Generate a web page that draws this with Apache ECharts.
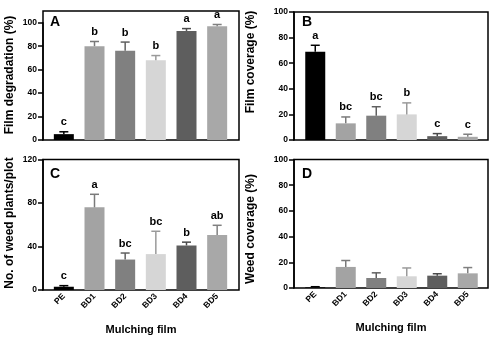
<!DOCTYPE html>
<html>
<head>
<meta charset="utf-8">
<script src="https://cdn.jsdelivr.net/npm/echarts@6/dist/echarts.min.js"></script>
<style>
  html, body { margin: 0; padding: 0; background: #fff; }
  #chart { width: 493px; height: 348px; }
</style>
</head>
<body>
<div id="chart"></div>
<script>
// ---- data ----
const categories = ['PE', 'BD1', 'BD2', 'BD3', 'BD4', 'BD5'];

const filmDegradation = [5, 80, 76, 68, 93, 97];
const filmDegradationErr = [2, 4, 7.5, 4, 2, 1.5];
const filmDegradationLetters = ['c', 'b', 'b', 'b', 'a', 'a'];

const filmCoverage = [69, 13, 19, 20, 3, 2.5];
const filmCoverageErr = [5, 5, 7, 9, 2, 2];
const filmCoverageLetters = ['a', 'bc', 'bc', 'b', 'c', 'c'];

const weedPlants = [3, 76, 28, 33, 41, 50.5];
const weedPlantsErr = [1, 12, 6, 21, 3, 9];
const weedPlantsLetters = ['c', 'a', 'bc', 'bc', 'b', 'ab'];

const weedCoverage = [0.5, 16.4, 7.8, 9.1, 9.6, 11.4];
const weedCoverageErr = [0.5, 5, 4, 6.5, 1.5, 4.5];
const weedCoverageLetters = ['', '', '', '', '', ''];

const ticksA = [0, 20, 40, 60, 80, 100];
const ticksB = [0, 20, 40, 60, 80, 100];
const ticksC = [0, 40, 80, 120];
const ticksD = [0, 20, 40, 60, 80, 100];

// ---- styles ----
const FONT = '"Liberation Sans", Arial, sans-serif';
const barColors = ['#000000', '#a3a3a3', '#808080', '#d6d6d6', '#5e5e5e', '#a8a8a8'];
const errColors = ['#000000', '#7a7a7a', '#606060', '#9a9a9a', '#4a4a4a', '#808080'];

const panels = [
  { frame: { left: 43, top: 11, width: 196, height: 129 }, bars: { left: 48.5, width: 184 },
    max: 110, ticks: ticksA, values: filmDegradation, errs: filmDegradationErr, letters: filmDegradationLetters, showX: false,
    textLabels: true },
  { frame: { left: 294, top: 12, width: 194, height: 128 }, bars: { left: 300, width: 183 },
    max: 100, ticks: ticksB, values: filmCoverage, errs: filmCoverageErr, letters: filmCoverageLetters, showX: false },
  { frame: { left: 43, top: 159.5, width: 196, height: 130.5 }, bars: { left: 48.5, width: 184 },
    max: 120, ticks: ticksC, values: weedPlants, errs: weedPlantsErr, letters: weedPlantsLetters, showX: true },
  { frame: { left: 294, top: 159.5, width: 194, height: 128.5 }, bars: { left: 300, width: 183 },
    max: 100, ticks: ticksD, values: weedCoverage, errs: weedCoverageErr, letters: weedCoverageLetters, showX: true }
];

const grid = [], xAxis = [], yAxis = [], series = [];
const axisLineStyle = { show: true, lineStyle: { color: '#000', width: 1.5 } };
const tickLabelStyle = { color: '#000', fontFamily: FONT, fontWeight: 'bold', fontSize: 8.5 };
const LABEL_MARGIN = 6;

panels.forEach((p, k) => {
  const gi = grid.length;           // box grid
  const li = gi + 1;                // labelled y-axis grid
  const bi = gi + 2;                // bars grid
  p.labelAxisIndex = li;
  const step = p.ticks[1] - p.ticks[0];
  const lastTick = p.ticks[p.ticks.length - 1];
  const labelHeight = p.frame.height * lastTick / p.max;
  const labelTop = p.frame.top + p.frame.height - labelHeight;

  grid.push({ left: p.frame.left, top: p.frame.top, width: p.frame.width, height: p.frame.height,
    show: true, borderColor: '#000', borderWidth: 1.5, backgroundColor: 'transparent' });
  grid.push({ left: p.frame.left, top: labelTop, width: p.frame.width, height: labelHeight });
  grid.push({ left: p.bars.left, top: p.frame.top, width: p.bars.width, height: p.frame.height });

  xAxis.push({ gridIndex: gi, type: 'value', min: 0, max: 1, show: false });
  yAxis.push({ gridIndex: gi, type: 'value', min: 0, max: p.max, show: false });

  xAxis.push({ gridIndex: li, type: 'value', min: 0, max: 1, show: false });
  yAxis.push({ gridIndex: li, type: 'value', min: 0, max: lastTick, interval: step,
    axisLine: axisLineStyle,
    axisTick: { show: true, length: 5, lineStyle: { color: '#000', width: 1.5 } },
    axisLabel: Object.assign({ show: !p.textLabels, margin: LABEL_MARGIN }, tickLabelStyle),
    splitLine: { show: false } });

  xAxis.push({ gridIndex: bi, type: 'category', data: categories, boundaryGap: true,
    axisLine: { show: false }, axisTick: { show: false },
    axisLabel: Object.assign({ show: p.showX, rotate: 45, margin: 5, interval: 0 }, tickLabelStyle) });
  yAxis.push({ gridIndex: bi, type: 'value', min: 0, max: p.max, show: false, splitLine: { show: false } });

  series.push({
    type: 'bar', xAxisIndex: bi, yAxisIndex: bi, barWidth: 20, silent: true,
    data: p.values.map((v, i) => ({ value: v, itemStyle: { color: barColors[i] } })),
    z: 2
  });

  series.push({
    type: 'custom', xAxisIndex: bi, yAxisIndex: bi, silent: true, z: 3,
    data: p.values.map((v, i) => [i, v, p.errs[i]]),
    encode: { x: 0, y: 1 },
    renderItem: function (params, api) {
      const i = params.dataIndex;
      const v = api.value(1), e = api.value(2);
      const base = api.coord([i, v]);
      const top = api.coord([i, v + e]);
      const c = errColors[i];
      const children = [
        { type: 'line', shape: { x1: base[0], y1: base[1], x2: top[0], y2: top[1] }, style: { stroke: c, lineWidth: 1.5 } },
        { type: 'line', shape: { x1: top[0] - 4.5, y1: top[1], x2: top[0] + 4.5, y2: top[1] }, style: { stroke: c, lineWidth: 1.5 } }
      ];
      const letter = p.letters[i];
      if (letter) {
        children.push({ type: 'text', x: top[0], y: top[1] - 4,
          style: { text: letter, align: 'center', verticalAlign: 'bottom', font: 'bold 11px ' + FONT, fill: '#000' } });
      }
      return { type: 'group', children: children };
    }
  });
});

const titleFont = 'bold 12px ' + FONT;
function vText(text, x, y) {
  return { type: 'text', x: x, y: y, rotation: Math.PI / 2, z: 100,
    style: { text: text, align: 'center', verticalAlign: 'middle', font: titleFont, fill: '#000' } };
}
function hText(text, x, y, font) {
  return { type: 'text', x: x, y: y, z: 100,
    style: { text: text, align: 'center', verticalAlign: 'middle', font: font, fill: '#000' } };
}
const letterFont = 'bold 14px ' + FONT;
const graphic = [
  vText('Film degradation (%)', 10, 75),
  vText('Film coverage (%)', 251, 62),
  vText('No. of weed plants/plot', 10, 223),
  vText('Weed coverage (%)', 251, 229),
  hText('A', 55, 22, letterFont),
  hText('B', 307, 22, letterFont),
  hText('C', 55, 174, letterFont),
  hText('D', 307, 174, letterFont),
  hText('Mulching film', 141, 330, 'bold 11px ' + FONT),
  hText('Mulching film', 391, 328, 'bold 11px ' + FONT)
];

const chart = echarts.init(document.getElementById('chart'), null, { renderer: 'canvas' });
chart.setOption({
  animation: false,
  backgroundColor: '#fff',
  grid: grid, xAxis: xAxis, yAxis: yAxis, series: series
});

// tick labels placed through the axis' own scale
panels.forEach(p => {
  if (!p.textLabels) return;
  p.ticks.forEach(t => {
    const y = chart.convertToPixel({ yAxisIndex: p.labelAxisIndex }, t);
    graphic.push({ type: 'text', x: p.frame.left - LABEL_MARGIN, y: y, z: 100,
      style: { text: String(t), align: 'right', verticalAlign: 'middle',
        font: 'bold 8.5px ' + FONT, fill: '#000' } });
  });
});
chart.setOption({ graphic: graphic });
</script>
</body>
</html>
